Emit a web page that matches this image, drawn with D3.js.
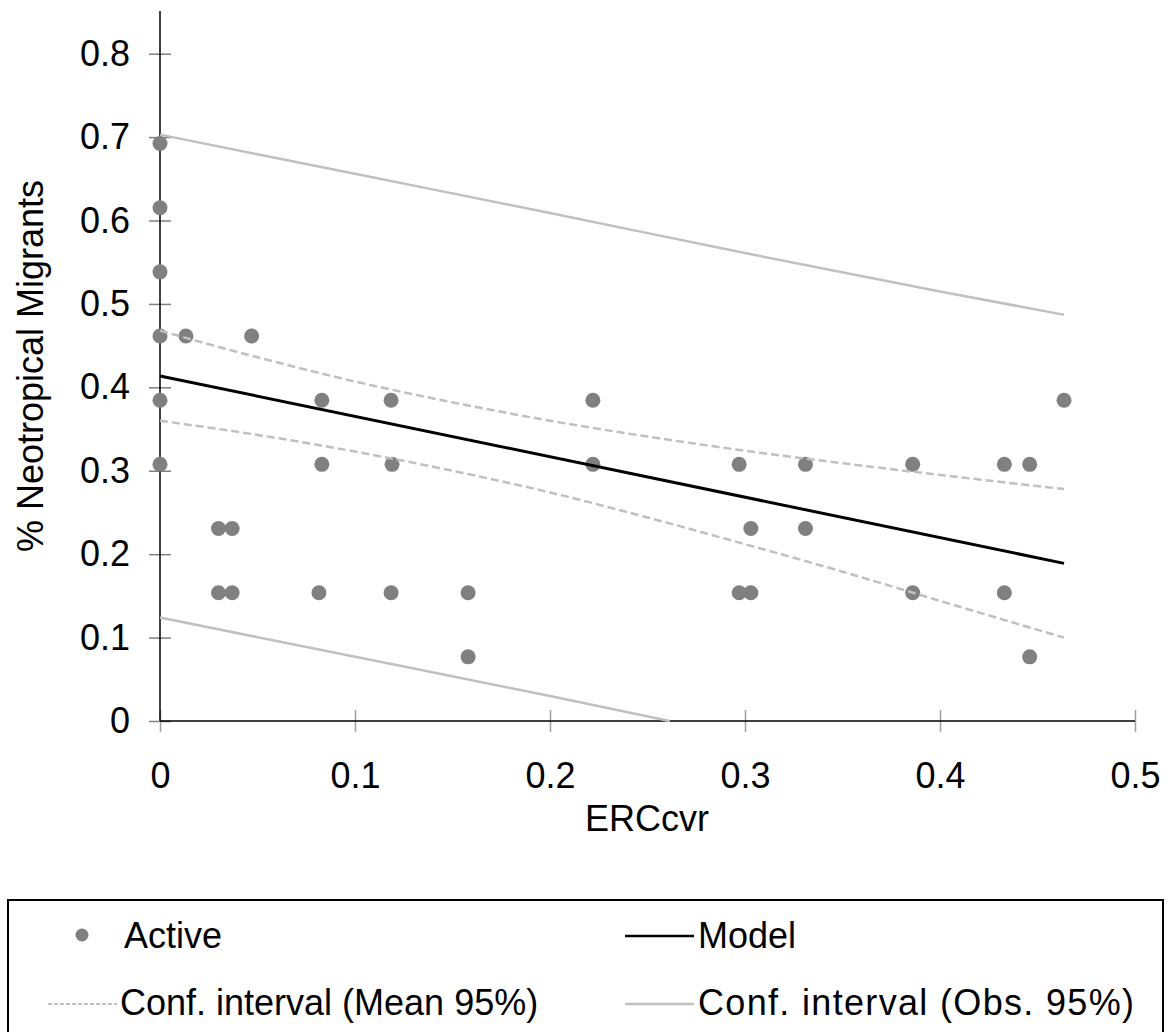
<!DOCTYPE html>
<html>
<head>
<meta charset="utf-8">
<script src="https://cdn.jsdelivr.net/npm/d3@7"></script>
<style>
  body { margin: 0; background: #fff; }
  text { font-family: "Liberation Sans", Arial, sans-serif; }
</style>
</head>
<body>
<script>
const svgWidth = 1170
const svgHeight = 1032

// scatter: ERCcvr vs % neotropical migrants
const activeX = [0, 0, 0, 0, 0, 0, 0.0133, 0.047, 0.030, 0.030, 0.037, 0.037,
    0.083, 0.083, 0.0815, 0.1185, 0.119, 0.1185, 0.158, 0.158, 0.222, 0.222,
    0.297, 0.297, 0.303, 0.303, 0.331, 0.331, 0.386, 0.386, 0.433, 0.433,
    0.446, 0.446, 0.4636]
const activeY = [0.6923, 0.6154, 0.5385, 0.4615, 0.3846, 0.3077, 0.4615, 0.4615, 0.2308, 0.1538, 0.2308, 0.1538,
    0.3846, 0.3077, 0.1538, 0.3846, 0.3077, 0.1538, 0.1538, 0.0769, 0.3846, 0.3077,
    0.3077, 0.1538, 0.2308, 0.1538, 0.3077, 0.2308, 0.3077, 0.1538, 0.3077, 0.1538,
    0.3077, 0.0769, 0.3846]

const modelX = [0, 0.4636]
const modelY = [0.4137, 0.189]

const meanX = [0, 0.05, 0.1, 0.15, 0.2, 0.25, 0.3, 0.35, 0.4, 0.4636]
const meanUpper = [0.468, 0.436, 0.407, 0.382, 0.360, 0.341, 0.324, 0.309, 0.295, 0.278]
const meanLower = [0.360, 0.343, 0.323, 0.300, 0.274, 0.244, 0.212, 0.179, 0.144, 0.100]

const obsUpperX = [0, 0.1, 0.2, 0.3, 0.4, 0.4636]
const obsUpperY = [0.703, 0.656, 0.609, 0.561, 0.515, 0.487]
const obsLowerX = [0, 0.1, 0.2, 0.2615]
const obsLowerY = [0.124, 0.077, 0.030, 0]

const xTicks = [0, 0.1, 0.2, 0.3, 0.4, 0.5]
const yTicks = [0, 0.1, 0.2, 0.3, 0.4, 0.5, 0.6, 0.7, 0.8]

const legendItems = ["Active", "Model", "Conf. interval (Mean 95%)", "Conf. interval (Obs. 95%)"]

const colorPoint = "#808080"
const colorCI = "#c0c0c0"

const svg = d3.select("body").append("svg")
    .attr("width", svgWidth)
    .attr("height", svgHeight)

const x = d3.scaleLinear().domain([0, 0.5]).range([160, 1135])
const y = d3.scaleLinear().domain([0, 0.85]).range([721, 12])

// axes
const yAxis = d3.axisLeft(y).tickValues(yTicks).tickFormat(d3.format("")).tickSize(0).tickPadding(30)
const yG = svg.append("g").attr("transform", `translate(${x(0)},0)`).call(yAxis)
yG.select(".domain").remove()
yG.selectAll(".tick line").attr("x1", -11).attr("x2", 11).attr("stroke", "#808080").attr("stroke-width", 1.5)
yG.selectAll(".tick text").attr("font-size", 36).attr("fill", "#000")

const xAxis = d3.axisBottom(x).tickValues(xTicks).tickFormat(d3.format("")).tickSize(0)
const xG = svg.append("g").attr("transform", `translate(0,${y(0)})`).call(xAxis)
xG.select(".domain").remove()
xG.selectAll(".tick line").attr("y1", -11).attr("y2", 11).attr("stroke", "#a0a0a0").attr("stroke-width", 1.5)
xG.selectAll(".tick text").attr("font-size", 36).attr("fill", "#000").attr("dy", null).attr("y", 67)

svg.append("line")
    .attr("x1", x(0)).attr("x2", x(0)).attr("y1", y(0)).attr("y2", 11)
    .attr("stroke", "#000").attr("stroke-width", 1.5)
svg.append("line")
    .attr("x1", x(0)).attr("x2", x(0.5)).attr("y1", y(0)).attr("y2", y(0))
    .attr("stroke", "#000").attr("stroke-width", 1.5)

// axis titles
svg.append("text")
    .attr("x", 647).attr("y", 831)
    .attr("text-anchor", "middle").attr("font-size", 36)
    .text("ERCcvr")
svg.append("text")
    .attr("transform", "translate(43,366) rotate(-90)")
    .attr("text-anchor", "middle").attr("font-size", 36)
    .text("% Neotropical Migrants")

// points
svg.append("g").selectAll("circle")
    .data(activeX.map((d, i) => [d, activeY[i]]))
    .join("circle")
    .attr("cx", d => x(d[0]))
    .attr("cy", d => y(d[1]))
    .attr("r", 7.5)
    .attr("fill", colorPoint)

const line = d3.line().x(d => x(d[0])).y(d => y(d[1]))
const zip = (a, b) => a.map((d, i) => [d, b[i]])

svg.append("path").attr("d", line.curve(d3.curveMonotoneX)(zip(meanX, meanUpper)))
    .attr("fill", "none").attr("stroke", colorCI).attr("stroke-width", 2.5).attr("stroke-dasharray", "8,4")
svg.append("path").attr("d", line(zip(meanX, meanLower)))
    .attr("fill", "none").attr("stroke", colorCI).attr("stroke-width", 2.5).attr("stroke-dasharray", "8,4")
svg.append("path").attr("d", line(zip(obsUpperX, obsUpperY)))
    .attr("fill", "none").attr("stroke", colorCI).attr("stroke-width", 2.5)
svg.append("path").attr("d", line(zip(obsLowerX, obsLowerY)))
    .attr("fill", "none").attr("stroke", colorCI).attr("stroke-width", 2.5)
svg.append("path").attr("d", line.curve(d3.curveLinear)(zip(modelX, modelY)))
    .attr("fill", "none").attr("stroke", "#000").attr("stroke-width", 3)

// legend
const legend = svg.append("g")
legend.append("rect")
    .attr("x", 8).attr("y", 900).attr("width", 1155).attr("height", 160)
    .attr("fill", "none").attr("stroke", "#000").attr("stroke-width", 2)

legend.append("circle").attr("cx", 82).attr("cy", 935).attr("r", 6.5).attr("fill", colorPoint)
legend.append("line").attr("x1", 625).attr("x2", 694).attr("y1", 936).attr("y2", 936)
    .attr("stroke", "#000").attr("stroke-width", 2.5)
legend.append("line").attr("x1", 48).attr("x2", 117).attr("y1", 1004).attr("y2", 1004)
    .attr("stroke", colorCI).attr("stroke-width", 2).attr("stroke-dasharray", "4,2")
legend.append("line").attr("x1", 625).attr("x2", 694).attr("y1", 1004).attr("y2", 1004)
    .attr("stroke", colorCI).attr("stroke-width", 2.5)

const legendPos = [[124, 948], [698, 948], [120, 1015], [698, 1015]]
legend.selectAll("text.item")
    .data(legendItems)
    .join("text")
    .attr("class", "item")
    .attr("x", (d, i) => legendPos[i][0])
    .attr("y", (d, i) => legendPos[i][1])
    .attr("font-size", 36)
    .text(d => d)
    .filter((d, i) => i === 3)
    .attr("textLength", 436)
    .attr("lengthAdjust", "spacing")
</script>
</body>
</html>
